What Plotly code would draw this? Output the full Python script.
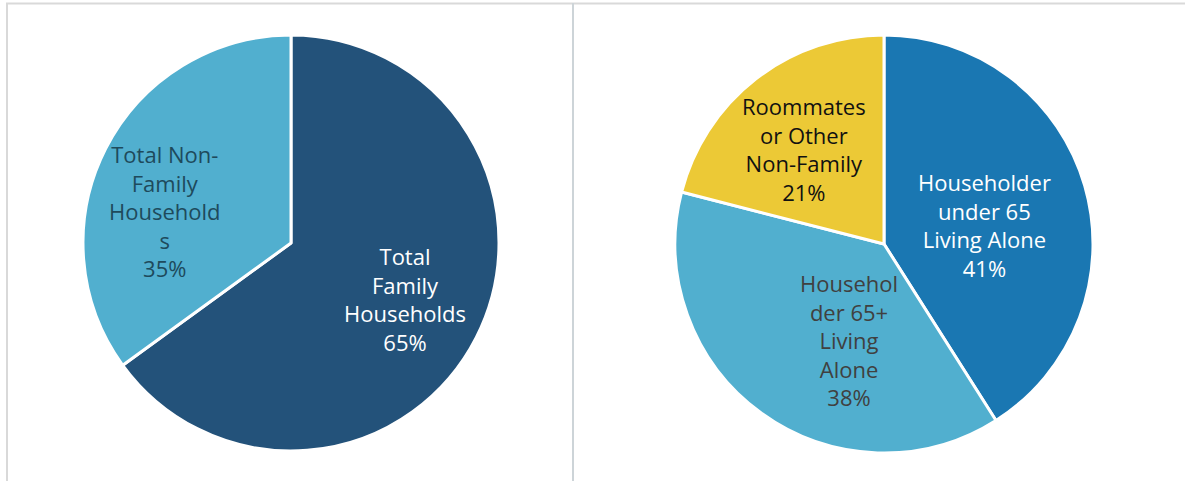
import plotly.graph_objects as go

W, H = 1185, 481

# Data
left_labels = ["Total Family Households", "Total Non-Family Households"]
left_values = [65, 35]
left_colors = ["#23527A", "#51AFCF"]
left_text = ["Total<br>Family<br>Households<br>65%", "Total Non-<br>Family<br>Household<br>s<br>35%"]
left_text_colors = ["#FFFFFF", "#1E4A5C"]

right_labels = ["Householder under 65 Living Alone", "Householder 65+ Living Alone",
                "Roommates or Other Non-Family"]
right_values = [41, 38, 21]
right_colors = ["#1A77B2", "#51AFCF", "#ECC936"]
right_text = ["Householder<br>under 65<br>Living Alone<br>41%",
              "Househol<br>der 65+<br>Living<br>Alone<br>38%",
              "Roommates<br>or Other<br>Non-Family<br>21%"]
right_text_colors = ["#FFFFFF", "#404040", "#111111"]

# label positions in pixels (x, y from top)
left_pos = [(405, 299), (165, 211)]
right_pos = [(984, 225), (849, 340), (804, 149)]

FONT = "Open Sans"
FS = 22

def px(x):
    return x / W

def py(y):
    return 1 - y / H

fig = go.Figure()

fig.add_trace(go.Pie(
    labels=left_labels, values=left_values, sort=False, direction="clockwise",
    rotation=0, marker=dict(colors=left_colors, line=dict(color="white", width=3)),
    textinfo="none", hoverinfo="label+percent", showlegend=False,
    domain=dict(x=[px(291 - 208), px(291 + 208)], y=[py(243 + 208), py(243 - 208)]),
))
fig.add_trace(go.Pie(
    labels=right_labels, values=right_values, sort=False, direction="clockwise",
    rotation=0, marker=dict(colors=right_colors, line=dict(color="white", width=3)),
    textinfo="none", hoverinfo="label+percent", showlegend=False,
    domain=dict(x=[px(884 - 209), px(884 + 209)], y=[py(244 + 209), py(244 - 209)]),
))

annotations = []
for txt, col, (x, y) in list(zip(left_text, left_text_colors, left_pos)) + \
        list(zip(right_text, right_text_colors, right_pos)):
    annotations.append(dict(
        text=txt, x=px(x), y=py(y), xref="paper", yref="paper",
        xanchor="center", yanchor="middle", showarrow=False, align="center",
        font=dict(family=FONT, size=FS, color=col),
    ))

shapes = [
    dict(type="line", xref="paper", yref="paper", x0=px(6), x1=1, y0=py(3.5), y1=py(3.5),
         line=dict(color="#D9D9D9", width=2)),
    dict(type="line", xref="paper", yref="paper", x0=px(7), x1=px(7), y0=0, y1=py(3),
         line=dict(color="#D9D9D9", width=2)),
    dict(type="line", xref="paper", yref="paper", x0=px(573), x1=px(573), y0=0, y1=py(3),
         line=dict(color="#CDD4D8", width=2)),
]

fig.update_layout(
    width=W, height=H, margin=dict(l=0, r=0, t=0, b=0),
    paper_bgcolor="white", plot_bgcolor="white",
    annotations=annotations, shapes=shapes,
)

fig.write_html(
    "out.html",
    config={"displayModeBar": False},
    post_script="document.body.style.margin='0';document.body.style.overflow='hidden';",
)
